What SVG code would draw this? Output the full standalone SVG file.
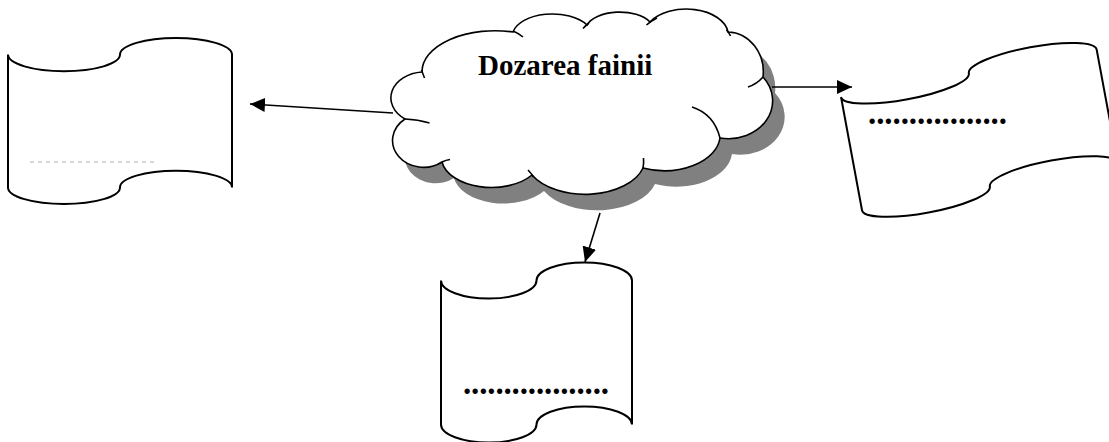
<svg xmlns="http://www.w3.org/2000/svg" width="1109" height="442" viewBox="0 0 1109 442">
  <style>
    .tape { fill: #ffffff; stroke: #000000; stroke-width: 2; }
    .cloud { fill: #ffffff; stroke: #000000; stroke-width: 1.6; }
    .cloud-shadow { fill: #808080; stroke: none; }
    .inner { fill: none; stroke: #000000; stroke-width: 1.6; }
    .link { fill: none; stroke: #000000; stroke-width: 1.6; marker-end: url(#arrow); }
    .title { font-family: "Liberation Serif", "Times New Roman", serif; font-weight: bold; font-size: 29px; fill: #000000; }
    .dots { font-family: "Liberation Serif", "Times New Roman", serif; font-weight: bold; font-size: 33px; fill: #000000; }
    .hint { stroke: #b0b0b0; stroke-width: 1; stroke-dasharray: 4 4; fill: none; }
  </style>
  <defs>
    <marker id="arrow" markerUnits="userSpaceOnUse" markerWidth="16" markerHeight="15" refX="15" refY="7" orient="auto">
      <path d="M0,0 L15,7 L0,14 Z" fill="#000000"/>
    </marker>
    <path id="cloud-outline" d="M422,72 A73,41 0 0 1 513,32 A40,22 0 0 1 587,25 A34,18 0 0 1 650,22 A42,26 0 0 1 728,32 A36,40 0 0 1 763,77 A44,38 0 0 1 720,138 A56,36 0 0 1 643,168 A60,36 0 0 1 532,175 A50,30 0 0 1 442,162 A30,26 0 0 1 405,119 A34,26 0 0 1 422,72 Z"/>
  </defs>

  <rect x="0" y="0" width="1109" height="442" fill="#ffffff"/>

  <!-- central cloud with drop shadow -->
  <g id="cloud-node">
    <use href="#cloud-outline" class="cloud-shadow" transform="translate(12,16)"/>
    <use href="#cloud-outline" class="cloud"/>
    <path class="inner" d="M421.5,70 Q423,74 424.5,78"/>
    <path class="inner" d="M513,31 Q518,33 523,37"/>
    <path class="inner" d="M583,28.5 Q585.5,25.5 589,23"/>
    <path class="inner" d="M646.5,25 Q651,21 657,18"/>
    <path class="inner" d="M726.5,30 Q729,32.5 730.5,36"/>
    <path class="inner" d="M763,77 Q757,84 748,87"/>
    <path class="inner" d="M692,107 Q714,114 720,138"/>
    <path class="inner" d="M643.5,158 Q644,163 643,168"/>
    <path class="inner" d="M528,170 Q531,173 533.5,177"/>
    <path class="inner" d="M442,162 Q446,160 450,159.5"/>
    <path class="inner" d="M405,119 Q418,119.5 429.5,123"/>
    <text class="title" x="478" y="75">Dozarea fainii</text>
  </g>

  <!-- left punched tape -->
  <g id="tape-left">
    <path class="tape" d="M8,54.6 A56,16.6 0 0 0 120,54.6 A56,16.6 0 0 1 232,54.6 L232,187.4 A56,16.6 0 0 0 120,187.4 A56,16.6 0 0 1 8,187.4 Z"/>
    <line class="hint" x1="30" y1="162" x2="158" y2="162"/>
  </g>

  <!-- right punched tape, tilted -->
  <g id="tape-right">
    <path class="tape" transform="translate(838.4,82.8) rotate(-10.5)" d="M0,14.4 A65,14.4 0 0 0 130,14.4 A65,14.4 0 0 1 260,14.4 L260,129.6 A65,14.4 0 0 0 130,129.6 A65,14.4 0 0 1 0,129.6 Z"/>
    <text class="dots" x="868" y="124" textLength="139" lengthAdjust="spacing">.................</text>
  </g>

  <!-- bottom punched tape -->
  <g id="tape-bottom">
    <path class="tape" d="M441,280.5 A47.75,18 0 0 0 536.5,280.5 A47.75,18 0 0 1 632,280.5 L632,424.5 A47.75,18 0 0 0 536.5,424.5 A47.75,18 0 0 1 441,424.5 Z"/>
    <text class="dots" x="463" y="394" textLength="146" lengthAdjust="spacing">..................</text>
  </g>

  <!-- connectors -->
  <g id="connectors">
    <line class="link" x1="393" y1="113" x2="250" y2="104"/>
    <line class="link" x1="772" y1="87" x2="852" y2="87"/>
    <line class="link" x1="600" y1="213" x2="585" y2="262"/>
  </g>
</svg>
